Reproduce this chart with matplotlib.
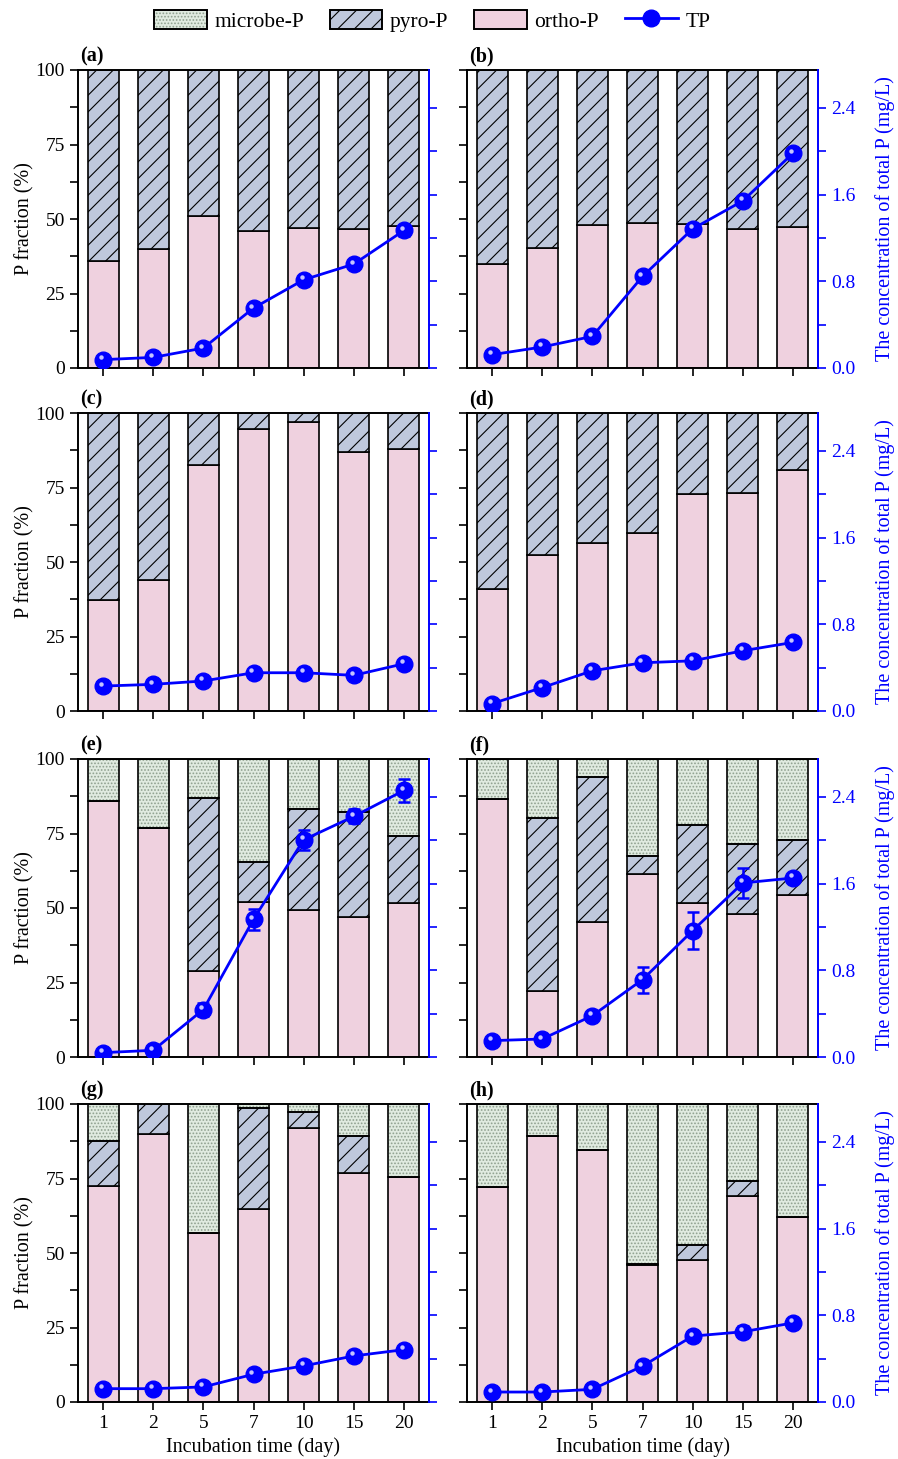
import matplotlib
matplotlib.use('Agg')
import matplotlib.pyplot as plt
from matplotlib.patches import Patch
from matplotlib.lines import Line2D
from matplotlib.ticker import MultipleLocator
from matplotlib import transforms

plt.rcParams['font.family'] = ['Liberation Serif', 'DejaVu Serif']
plt.rcParams['hatch.linewidth'] = 0.8

days = ['1', '2', '5', '7', '10', '15', '20']
panels = ['a', 'b', 'c', 'd', 'e', 'f', 'g', 'h']

# P fractions (%)
ortho_a = [36.0, 40.0, 51.0, 46.0, 47.0, 46.5, 47.5]
ortho_b = [34.9, 40.2, 48.0, 48.7, 48.3, 46.8, 47.4]
ortho_c = [37.4, 44.1, 82.5, 94.7, 96.9, 86.8, 88.0]
ortho_d = [41.0, 52.2, 56.5, 59.6, 72.7, 73.0, 80.9]
ortho_e = [86.0, 76.7, 28.8, 51.9, 49.3, 47.1, 51.8]
ortho_f = [86.6, 22.0, 45.2, 61.3, 51.6, 48.0, 54.4]
ortho_g = [72.5, 90.1, 56.6, 64.6, 92.0, 76.7, 75.6]
ortho_h = [72.0, 89.1, 84.6, 46.0, 47.7, 69.0, 62.2]

pyro_a = [64.0, 60.0, 49.0, 54.0, 53.0, 53.5, 52.5]
pyro_b = [65.1, 59.8, 52.0, 51.3, 51.7, 53.2, 52.6]
pyro_c = [62.6, 55.9, 17.5, 5.3, 3.1, 13.2, 12.0]
pyro_d = [59.0, 47.8, 43.5, 40.4, 27.3, 27.0, 19.1]
pyro_e = [0.0, 0.0, 58.0, 13.5, 33.9, 35.1, 22.2]
pyro_f = [0.0, 58.3, 48.6, 6.3, 26.4, 23.5, 18.3]
pyro_g = [15.1, 9.9, 0.0, 34.2, 5.2, 12.5, 0.0]
pyro_h = [0.0, 0.0, 0.0, 0.3, 4.9, 5.0, 0.0]

microbe_a = [0, 0, 0, 0, 0, 0, 0]
microbe_b = [0, 0, 0, 0, 0, 0, 0]
microbe_c = [0, 0, 0, 0, 0, 0, 0]
microbe_d = [0, 0, 0, 0, 0, 0, 0]
microbe_e = [14.0, 23.3, 13.2, 34.6, 16.8, 17.8, 26.0]
microbe_f = [13.4, 19.7, 6.2, 32.4, 22.0, 28.5, 27.3]
microbe_g = [12.4, 0.0, 43.4, 1.2, 2.8, 10.8, 24.4]
microbe_h = [28.0, 10.9, 15.4, 53.7, 47.4, 26.0, 37.8]

# total P (mg/L) and error
tp_a = [0.077, 0.098, 0.184, 0.553, 0.814, 0.959, 1.269]
tp_b = [0.123, 0.194, 0.292, 0.845, 1.284, 1.542, 1.982]
tp_c = [0.230, 0.246, 0.277, 0.353, 0.353, 0.329, 0.436]
tp_d = [0.068, 0.216, 0.371, 0.445, 0.463, 0.556, 0.633]
tp_e = [0.040, 0.062, 0.438, 1.270, 2.004, 2.220, 2.460]
tp_f = [0.151, 0.166, 0.381, 0.714, 1.166, 1.606, 1.652]
tp_g = [0.123, 0.123, 0.139, 0.256, 0.333, 0.425, 0.483]
tp_h = [0.092, 0.092, 0.117, 0.331, 0.608, 0.648, 0.730]

err_a = [0.02, 0.02, 0.02, 0.04, 0.04, 0.04, 0.05]
err_b = [0.01, 0.02, 0.02, 0.02, 0.02, 0.02, 0.02]
err_c = [0.01, 0.01, 0.01, 0.02, 0.02, 0.02, 0.02]
err_d = [0.01, 0.01, 0.02, 0.02, 0.02, 0.02, 0.02]
err_e = [0.01, 0.01, 0.06, 0.10, 0.09, 0.065, 0.105]
err_f = [0.01, 0.01, 0.02, 0.12, 0.17, 0.14, 0.02]
err_g = [0.01, 0.01, 0.01, 0.02, 0.02, 0.02, 0.02]
err_h = [0.01, 0.01, 0.01, 0.01, 0.02, 0.05, 0.01]

ortho = [ortho_a, ortho_b, ortho_c, ortho_d, ortho_e, ortho_f, ortho_g, ortho_h]
pyro = [pyro_a, pyro_b, pyro_c, pyro_d, pyro_e, pyro_f, pyro_g, pyro_h]
microbe = [microbe_a, microbe_b, microbe_c, microbe_d, microbe_e, microbe_f, microbe_g, microbe_h]
tp = [tp_a, tp_b, tp_c, tp_d, tp_e, tp_f, tp_g, tp_h]
err = [err_a, err_b, err_c, err_d, err_e, err_f, err_g, err_h]

c_ortho = '#efd1df'
c_pyro = '#bfc8dc'
c_microbe = '#e0ebe0'
c_dot = '#8fa08f'
blue = '#0000ff'
lw = 1.2
fs = 14.5

W, H = 898, 1459
fig = plt.figure(figsize=(W / 100, H / 100), dpi=100)

col_left = [78, 467]
row_top = [70, 413, 759, 1104]
aw, ah = 351, 298
x = list(range(len(days)))
bw = 0.62

for i, p in enumerate(panels):
    row, col = i // 2, i % 2
    ax = fig.add_axes([col_left[col] / W, 1 - (row_top[row] + ah) / H, aw / W, ah / H])
    o, py, m = ortho[i], pyro[i], microbe[i]
    bottom2 = [a + b for a, b in zip(o, py)]

    ax.bar(x, o, bw, color=c_ortho, edgecolor='black', linewidth=lw, zorder=2)
    ax.bar(x, py, bw, bottom=o, color=c_pyro, edgecolor='black', hatch='//',
           linewidth=0, zorder=2)
    ax.bar(x, py, bw, bottom=o, fill=False, edgecolor='black', linewidth=lw, zorder=3)
    if sum(m) > 0:
        ax.bar(x, m, bw, bottom=bottom2, color=c_microbe, edgecolor=c_dot, hatch='.....',
               linewidth=0, zorder=2)
        ax.bar(x, m, bw, bottom=bottom2, fill=False, edgecolor='black', linewidth=lw, zorder=3)

    ax.set_xlim(-0.5, 6.5)
    ax.set_ylim(0, 100)
    ax.yaxis.set_major_locator(MultipleLocator(25))
    ax.yaxis.set_minor_locator(MultipleLocator(12.5))
    ax.set_xticks(x)
    ax.tick_params(axis='both', which='both', direction='out', length=6, width=1.2,
                   labelsize=14)
    for s in ['left', 'top', 'bottom']:
        ax.spines[s].set_linewidth(1.4)
    ax.spines['right'].set_visible(False)

    if row == 3:
        ax.set_xticklabels(days)
        ax.set_xlabel('Incubation time (day)', fontsize=fs, labelpad=4)
    else:
        ax.set_xticklabels([])
    if col == 0:
        ax.set_ylabel('P fraction (%)', fontsize=fs, labelpad=1)
    else:
        ax.set_yticklabels([])

    ax.text(0.005, 1.012, '(' + p + ')', transform=ax.transAxes, fontsize=14.5,
            fontweight='bold', ha='left', va='bottom')

    ax2 = ax.twinx()
    ax2.set_ylim(0, 2.75)
    ax2.yaxis.set_major_locator(MultipleLocator(0.8))
    ax2.yaxis.set_minor_locator(MultipleLocator(0.4))
    ax2.tick_params(axis='y', which='both', direction='out', length=6, width=1.2,
                    colors=blue, labelsize=14)
    ax2.spines['right'].set_color(blue)
    ax2.spines['right'].set_linewidth(1.4)
    for s in ['left', 'top', 'bottom']:
        ax2.spines[s].set_visible(False)
    if col == 0:
        ax2.set_yticklabels([])
    else:
        ax2.set_ylabel('The concentration of total P (mg/L)', fontsize=fs, color=blue,
                       labelpad=14)

    ax2.errorbar(x, tp[i], yerr=err[i], color=blue, linewidth=2, marker='o',
                 markersize=12, markerfacecolor=blue, markeredgecolor=blue,
                 ecolor=blue, elinewidth=1.8, capsize=4.5, capthick=1.8, zorder=5)
    hl = transforms.offset_copy(ax2.transData, fig=fig, x=-1.5, y=1.8, units='points')
    ax2.plot(x, tp[i], linestyle='none', marker='o', markersize=3.2,
             color='#c4c4ff', markeredgewidth=0, transform=hl, zorder=6)

# legend
h_micro = (Patch(facecolor=c_microbe, edgecolor=c_dot, hatch='.....', linewidth=0),
           Patch(facecolor='none', edgecolor='black', linewidth=1.4))
h_pyro = Patch(facecolor=c_pyro, edgecolor='black', hatch='//', linewidth=1.4)
h_ortho = Patch(facecolor=c_ortho, edgecolor='black', linewidth=1.4)
h_tp = Line2D([], [], color=blue, linewidth=2, marker='o', markersize=12)
fig.legend([h_micro, h_pyro, h_ortho, h_tp], ['microbe-P', 'pyro-P', 'ortho-P', 'TP'],
           loc='center', bbox_to_anchor=(432 / W, 1 - 21 / H), ncol=4, frameon=False,
           fontsize=15.5, handlelength=2.45, handleheight=1.0, handletextpad=0.35,
           columnspacing=1.2)

fig.savefig('out.png', dpi=100)
